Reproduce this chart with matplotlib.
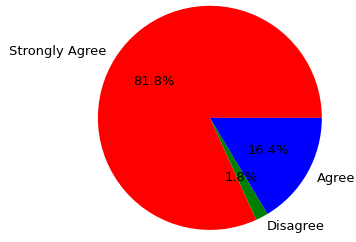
import matplotlib
matplotlib.use("Agg")
import matplotlib.pyplot as plt

labels = ["Strongly Agree", "Disagree", "Agree"]
shares = [81.8, 1.8, 16.4]
colors = ["red", "green", "blue"]

fig = plt.figure(figsize=(3.56, 2.42), dpi=100)
ax = fig.add_axes([0.275, 0.05, 0.629, 0.926])
ax.pie(shares, labels=labels, colors=colors, autopct="%1.1f%%",
       startangle=0, textprops={"fontsize": 9.4})
ax.set_xlim(-1, 1)
ax.set_ylim(-1, 1)
ax.set_aspect("auto")
fig.savefig("out.png", dpi=100)
